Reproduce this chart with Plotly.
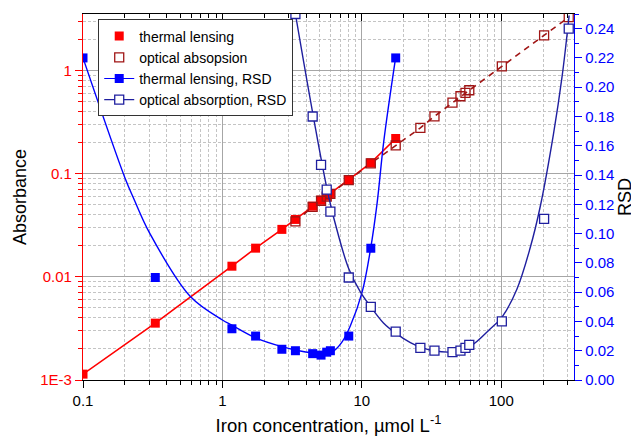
import plotly.graph_objects as go

# ---- data ----
tl_conc = [0.1, 0.33, 1.17, 1.73, 2.67, 3.34, 4.44, 5.1, 5.6, 5.95, 8.06, 11.6, 17.5]
tl_abs = [0.00114, 0.00356, 0.0127, 0.019, 0.0289, 0.0361, 0.0485, 0.0554, 0.0607, 0.0645, 0.0877, 0.1276, 0.22]
tl_rsd = [0.220, 0.070, 0.035, 0.030, 0.021, 0.020, 0.018, 0.017, 0.019, 0.020, 0.030, 0.090, 0.220]

oa_conc = [3.34, 4.44, 5.1, 5.6, 5.95, 8.06, 11.6, 17.5, 26.3, 33.2, 44.7, 51, 55.4, 59, 101, 203, 305]
oa_abs = [0.0345, 0.0478, 0.0548, 0.060, 0.064, 0.087, 0.126, 0.189, 0.279, 0.361, 0.491, 0.565, 0.609, 0.646, 1.10, 2.20, 3.31]
oa_rsd = [0.250, 0.180, 0.147, 0.130, 0.115, 0.070, 0.050, 0.033, 0.022, 0.020, 0.019, 0.020, 0.022, 0.024, 0.040, 0.110, 0.240]

# fitted RSD curves
tl_fit_x = [0.1, 0.2, 0.231, 0.3, 0.589, 1.0, 1.166, 1.73, 2.67, 3.62, 4.4, 5.04, 5.7, 6.26, 7.22, 8.28, 10.05, 11.53, 12.88, 14.37, 17.5]
tl_fit_y = [0.220, 0.138, 0.124, 0.1005, 0.057, 0.041, 0.0375, 0.0288, 0.0228, 0.0198, 0.0186, 0.0181, 0.0184, 0.0197, 0.026, 0.037, 0.060, 0.089, 0.121, 0.163, 0.2205]
oa_fit_x = [3.34, 4.47, 5.79, 6.83, 8.06, 9.78, 11.6, 14.3, 17.5, 22.3, 26.3, 32.8, 44.6, 60.0, 83.6, 101.3, 129.5, 161, 190, 237, 273, 307]
oa_fit_y = [0.250, 0.181, 0.125, 0.098, 0.076, 0.060, 0.050, 0.039, 0.032, 0.0255, 0.0225, 0.020, 0.0192, 0.023, 0.035, 0.043, 0.062, 0.090, 0.118, 0.168, 0.207, 0.249]

x_ticks = [0.1, 1, 10, 100]
x_ticktext = ["0.1", "1", "10", "100"]
y_ticks = [0.001, 0.01, 0.1, 1]
y_ticktext = ["1E-3", "0.01", "0.1", "1"]

RED = "#ff0000"
DARKRED = "#a01515"
BLUE = "#0000ff"
NAVY = "#1f1f9f"
FONT = "Liberation Sans, Arial, sans-serif"
MAJGRID = "#a6a6a6"
MINGRID = "#c4c4c4"

fig = go.Figure()

# absorbance lines
fig.add_trace(go.Scatter(x=tl_conc, y=tl_abs, mode="lines", line=dict(color=RED, width=1.6),
                         showlegend=False, hoverinfo="skip"))
fig.add_trace(go.Scatter(x=oa_conc, y=oa_abs, mode="lines", line=dict(color=DARKRED, width=1.6, dash="6px,5px"),
                         showlegend=False, hoverinfo="skip"))
# absorbance markers
fig.add_trace(go.Scatter(x=tl_conc, y=tl_abs, mode="markers", name="thermal lensing",
                         marker=dict(symbol="square", size=9, color=RED, line=dict(width=0))))
fig.add_trace(go.Scatter(x=oa_conc, y=oa_abs, mode="markers", name="optical absopsion",
                         marker=dict(symbol="square-open", size=9, color=DARKRED, line=dict(width=1.3))))
# RSD curves + markers
fig.add_trace(go.Scatter(x=tl_fit_x, y=tl_fit_y, yaxis="y2", mode="lines",
                         line=dict(color=BLUE, width=1.4, shape="spline", smoothing=1.0),
                         showlegend=False, hoverinfo="skip"))
fig.add_trace(go.Scatter(x=tl_conc, y=tl_rsd, yaxis="y2", mode="markers", showlegend=False,
                         marker=dict(symbol="square", size=9, color=BLUE, line=dict(width=0))))
fig.add_trace(go.Scatter(x=oa_fit_x, y=oa_fit_y, yaxis="y2", mode="lines",
                         line=dict(color=NAVY, width=1.4, shape="spline", smoothing=1.0),
                         showlegend=False, hoverinfo="skip"))
fig.add_trace(go.Scatter(x=oa_conc, y=oa_rsd, yaxis="y2", mode="markers", showlegend=False,
                         marker=dict(symbol="square", size=9, color="white", line=dict(width=1.3, color=NAVY))))
# legend entries (line + marker) for RSD series
fig.add_trace(go.Scatter(x=[None], y=[None], yaxis="y2", mode="lines+markers", name="thermal lensing, RSD",
                         line=dict(color=BLUE, width=1.2),
                         marker=dict(symbol="square", size=9, color=BLUE, line=dict(width=0))))
fig.add_trace(go.Scatter(x=[None], y=[None], yaxis="y2", mode="lines+markers", name="optical absorption, RSD",
                         line=dict(color=NAVY, width=1.2),
                         marker=dict(symbol="square", size=9, color="white", line=dict(width=1.3, color=NAVY))))
# anchor trace for the top axis (invisible)
fig.add_trace(go.Scatter(x=tl_conc[:1], y=tl_abs[:1], xaxis="x2", mode="markers",
                         marker=dict(opacity=0), showlegend=False, hoverinfo="skip"))

# the page body has an 8px margin, so the figure is sized/margined to land on the target pixels
fig.update_layout(
    width=631, height=429,
    margin=dict(l=75, r=65, t=6, b=57, autoexpand=False),
    paper_bgcolor="white", plot_bgcolor="white",
    font=dict(family=FONT, size=15, color="black"),
    showlegend=True,
    legend=dict(x=0.031, y=0.985, xanchor="left", yanchor="top", bgcolor="white",
                bordercolor="#333333", borderwidth=1, font=dict(size=14, family=FONT),
                tracegroupgap=0),
    xaxis=dict(type="log", range=[-1, 2.522], tickvals=x_ticks, ticktext=x_ticktext, automargin=False,
               ticks="outside", ticklen=7, tickwidth=1, tickcolor="black",
               showline=True, linecolor="black", linewidth=1.3, mirror=False,
               showgrid=True, gridcolor=MAJGRID, gridwidth=1,
               minor=dict(dtick="D1", ticks="outside", ticklen=4, tickcolor="black",
                          showgrid=True, gridcolor=MINGRID, griddash="3px,2px", gridwidth=1),
               tickfont=dict(size=15, color="black"),
               title=dict(text="Iron concentration, \u00b5mol L<sup>-1</sup>", font=dict(size=18.5), standoff=10),
               zeroline=False),
    xaxis2=dict(type="log", range=[-1, 2.522], overlaying="x", side="top", anchor="y", automargin=False,
                tickvals=x_ticks, showticklabels=False, ticks="inside", ticklen=7, tickcolor="black",
                showline=True, linecolor="black", linewidth=1.3, showgrid=False,
                minor=dict(dtick="D1", ticks="inside", ticklen=4, tickcolor="black", showgrid=False)),
    yaxis=dict(type="log", range=[-3, 0.55], tickvals=y_ticks, ticktext=y_ticktext, automargin=False,
               ticks="outside", ticklen=7, tickcolor=RED, tickfont=dict(size=15, color=RED),
               showline=True, linecolor=RED, linewidth=1.3,
               showgrid=True, gridcolor=MAJGRID, gridwidth=1,
               minor=dict(dtick="D1", ticks="outside", ticklen=4, tickcolor=RED,
                          showgrid=True, gridcolor=MINGRID, griddash="3px,2px", gridwidth=1),
               title=dict(text="Absorbance", font=dict(size=18, color="black"), standoff=8),
               zeroline=False),
    yaxis2=dict(overlaying="y", side="right", range=[0, 0.25], dtick=0.02, tick0=0, tickformat=".2f",
                automargin=False,
                ticks="outside", ticklen=7, tickcolor=BLUE, tickfont=dict(size=15, color=BLUE),
                showline=True, linecolor=BLUE, linewidth=1.3, showgrid=False, zeroline=False,
                minor=dict(dtick=0.01, ticks="outside", ticklen=4, tickcolor=BLUE),
                title=dict(text="RSD", font=dict(size=18, color="black"), standoff=5)),
)

fig.write_html("out.html")
